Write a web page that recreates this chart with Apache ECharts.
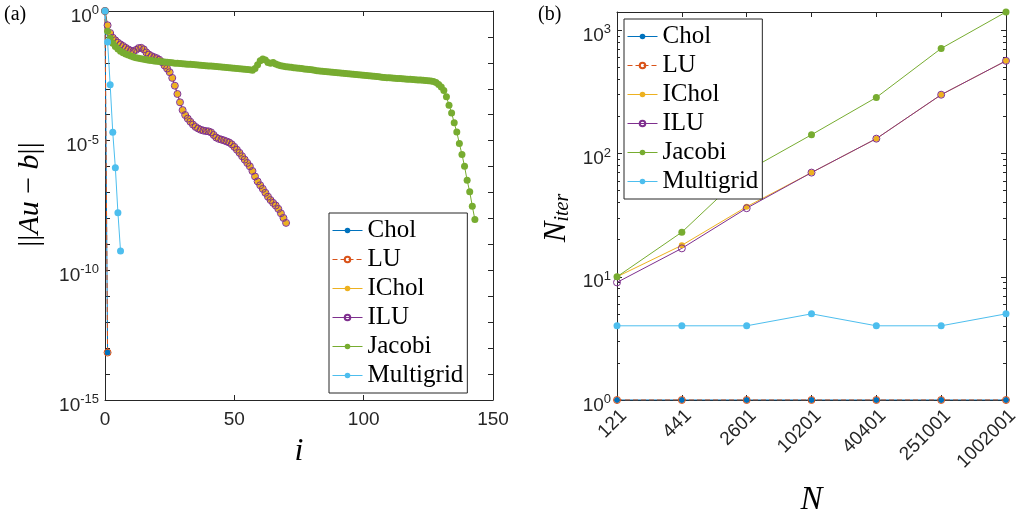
<!DOCTYPE html>
<html><head><meta charset="utf-8">
<script src="https://cdn.jsdelivr.net/npm/echarts@6/dist/echarts.min.js"></script>
<style>html,body{margin:0;padding:0;background:#fff}#c{width:1019px;height:517px}</style>
</head><body><div id="c"></div>
<script>
const seriesNames = ['Chol', 'LU', 'IChol', 'ILU', 'Jacobi', 'Multigrid'];

// Panel (a): log10 of the residual ||Au-b|| at iteration i = 0,1,2,...
const cholLog = [0, -13.17];
const luLog = [0, -13.17];
const icholLog = [0, -0.55, -0.85, -1.03, -1.13, -1.22, -1.29, -1.35, -1.42, -1.48,
  -1.53, -1.55, -1.50, -1.43, -1.42, -1.48, -1.60, -1.68, -1.74, -1.78,
  -1.82, -1.88, -1.97, -2.10, -2.22, -2.36, -2.58, -2.88, -3.20, -3.52,
  -3.82, -4.01, -4.15, -4.27, -4.38, -4.47, -4.53, -4.58, -4.61, -4.63,
  -4.64, -4.68, -4.78, -4.88, -4.93, -4.96, -4.99, -5.03, -5.07, -5.14,
  -5.24, -5.35, -5.47, -5.60, -5.73, -5.86, -5.99, -6.17, -6.38, -6.57,
  -6.72, -6.86, -7.01, -7.16, -7.29, -7.40, -7.50, -7.63, -7.80, -7.98, -8.17];
const iluLog = [0, -0.55, -0.85, -1.03, -1.13, -1.22, -1.29, -1.35, -1.42, -1.48,
  -1.53, -1.55, -1.50, -1.43, -1.42, -1.48, -1.60, -1.68, -1.74, -1.78,
  -1.82, -1.88, -1.97, -2.10, -2.22, -2.36, -2.58, -2.88, -3.20, -3.52,
  -3.82, -4.01, -4.15, -4.27, -4.38, -4.47, -4.53, -4.58, -4.61, -4.63,
  -4.64, -4.68, -4.78, -4.88, -4.93, -4.96, -4.99, -5.03, -5.07, -5.14,
  -5.24, -5.35, -5.47, -5.60, -5.73, -5.86, -5.99, -6.17, -6.38, -6.57,
  -6.72, -6.86, -7.01, -7.16, -7.29, -7.40, -7.50, -7.63, -7.80, -7.98, -8.17];
const jacobiLog = [0,
  -0.78, -1.05, -1.24, -1.37, -1.47, -1.55, -1.61, -1.66, -1.70, -1.74,
  -1.77, -1.80, -1.82, -1.84, -1.86, -1.88, -1.90, -1.91, -1.93, -1.94,
  -1.95, -1.96, -1.97, -1.98, -1.99, -2.00, -2.01, -2.01, -2.02, -2.03,
  -2.04, -2.05, -2.05, -2.06, -2.07, -2.08, -2.09, -2.10, -2.11, -2.12,
  -2.12, -2.13, -2.14, -2.15, -2.16, -2.17, -2.18, -2.19, -2.20, -2.21,
  -2.22, -2.23, -2.24, -2.25, -2.26, -2.27, -2.28,
  -2.22, -2.07, -1.92, -1.85, -1.89, -1.99, -2.01, -1.99, -2.04, -2.08, -2.11, -2.13,
  -2.15, -2.16, -2.17, -2.19, -2.20, -2.21, -2.22, -2.24, -2.25, -2.26,
  -2.27, -2.28, -2.30, -2.31, -2.32, -2.33, -2.34, -2.35, -2.36, -2.37,
  -2.38, -2.39, -2.40, -2.41, -2.42, -2.43, -2.44, -2.45, -2.46, -2.47,
  -2.48, -2.49, -2.50, -2.51, -2.52, -2.53, -2.54, -2.55, -2.56, -2.57,
  -2.57, -2.58, -2.59, -2.60, -2.60, -2.61, -2.62, -2.63, -2.63, -2.64,
  -2.65, -2.66, -2.66, -2.67, -2.68, -2.69, -2.70, -2.72,
  -2.76, -2.83, -2.93, -3.07, -3.31, -3.63, -3.93, -4.31, -4.67, -5.11,
  -5.53, -5.99, -6.53, -6.97, -7.53, -8.04];
const multigridLog = [0, -1.2, -2.84, -4.68, -6.04, -7.78, -9.25];

// Panel (b): iterations needed vs problem size N
const nLabels = ['121', '441', '2601', '10201', '40401', '251001', '1002001'];
const cholIter = [1, 1, 1, 1, 1, 1, 1];
const luIter = [1, 1, 1, 1, 1, 1, 1];
const icholIter = [10, 18, 37, 70, 132, 300, 565];
const iluIter = [9, 17, 36, 70, 132, 300, 565];
const jacobiIter = [10, 23, 72, 142, 285, 712, 1407];
const multigridIter = [4, 4, 4, 5, 4, 4, 5];

const colors = {Chol: '#0072BD', LU: '#D95319', IChol: '#EDB120', ILU: '#7E2F8E', Jacobi: '#77AC30', Multigrid: '#4DBEEE'};
const hollow = {LU: true, ILU: true};
const sizes = {Chol: 6, LU: 7, IChol: 6, ILU: 7, Jacobi: 7, Multigrid: 7};
const AX = '#262626';
const SANS = 'Liberation Sans, Arial, sans-serif';
const SERIF = 'Liberation Serif, Times New Roman, serif';

const leftData = {Chol: cholLog, LU: luLog, IChol: icholLog, ILU: iluLog, Jacobi: jacobiLog, Multigrid: multigridLog};
const rightData = {Chol: cholIter, LU: luIter, IChol: icholIter, ILU: iluIter, Jacobi: jacobiIter, Multigrid: multigridIter};

function mk(name, data, ax) {
  const c = colors[name];
  return {
    name, type: 'line', xAxisIndex: ax, yAxisIndex: ax, data,
    symbol: 'circle', symbolSize: sizes[name], showSymbol: true, showAllSymbol: true,
    animation: false, silent: true,
    lineStyle: {color: c, width: 1, type: name === 'LU' ? [5, 3] : 'solid'},
    itemStyle: hollow[name] ? {color: 'rgba(255,255,255,0)', borderColor: c, borderWidth: 1} : {color: c, borderWidth: 0}
  };
}

const series = [];
seriesNames.forEach(n => series.push(mk(n, leftData[n].map((v, i) => [i, Math.pow(10, v)]), 0)));
seriesNames.forEach(n => series.push(mk(n, rightData[n], 2)));

const supRich = {
  b: {fontSize: 19, fontFamily: SANS, color: AX, lineHeight: 22, verticalAlign: 'bottom'},
  s: {fontSize: 13, fontFamily: SANS, color: AX, lineHeight: 8, verticalAlign: 'top'}
};
function decadeLabel(v, step) {
  const e = Math.round(Math.log10(v));
  if (Math.abs(Math.pow(10, e) - v) > 1e-6 * Math.pow(10, e)) return '';
  if (e % step !== 0) return '';
  return '{b|10}{s|' + e + '}';
}

const tick = {show: true, inside: true, length: 5, lineStyle: {color: AX, width: 1}};
const minor = {show: true, splitNumber: 9, length: 3, lineStyle: {color: AX, width: 1}};
const line = {show: true, onZero: false, lineStyle: {color: AX, width: 1}};
const legendBase = {
  data: seriesNames, orient: 'vertical', backgroundColor: '#fff', borderColor: AX, borderWidth: 1,
  borderRadius: 0, padding: [3, 4, 3, 3], itemWidth: 30, itemHeight: 7, itemGap: 0,
  selectedMode: false, lineStyle: {width: 1},
  textStyle: {fontFamily: SERIF, fontSize: 25, color: '#000', lineHeight: 29}
};

const option = {
  backgroundColor: '#fff',
  animation: false,
  grid: [
    {left: 105, top: 11, width: 388, height: 389, outerBoundsMode: 'none', containLabel: false},
    {left: 617, top: 12, width: 389, height: 388, outerBoundsMode: 'none', containLabel: false}
  ],
  legend: [
    Object.assign({left: 329, top: 213}, legendBase),
    Object.assign({left: 624, top: 19}, legendBase)
  ],
  graphic: [
    {type: 'text', left: 4, top: 5, style: {text: '(a)', font: '20px ' + SERIF, fill: '#000'}},
    {type: 'text', left: 538, top: 5, style: {text: '(b)', font: '20px ' + SERIF, fill: '#000'}}
  ],
  xAxis: [
    {gridIndex: 0, type: 'value', min: 0, max: 150, interval: 50, position: 'bottom',
      axisLine: line, axisTick: tick, splitLine: {show: false},
      axisLabel: {fontFamily: SANS, fontSize: 19, color: AX, margin: 10},
      name: 'i', nameLocation: 'middle', nameGap: 36,
      nameTextStyle: {fontFamily: SERIF, fontStyle: 'italic', fontSize: 32, color: '#000'}},
    {gridIndex: 0, type: 'value', min: 0, max: 150, interval: 50, position: 'top',
      axisLine: line, axisTick: tick, splitLine: {show: false}, axisLabel: {show: false}},
    {gridIndex: 1, type: 'category', data: nLabels, boundaryGap: false, position: 'bottom',
      axisLine: line, axisTick: tick, splitLine: {show: false},
      axisLabel: {fontFamily: SANS, fontSize: 19, color: AX, rotate: 45, margin: 6, interval: 0, verticalAlign: 'top'},
      name: 'N', nameLocation: 'middle', nameGap: 84,
      nameTextStyle: {fontFamily: SERIF, fontStyle: 'italic', fontSize: 33, color: '#000'}},
    {gridIndex: 1, type: 'category', data: nLabels, boundaryGap: false, position: 'top',
      axisLine: line, axisTick: tick, splitLine: {show: false}, axisLabel: {show: false}}
  ],
  yAxis: [
    {gridIndex: 0, type: 'log', logBase: 10, min: 1e-15, max: 1, interval: 1, position: 'left',
      axisLine: line, axisTick: tick, splitLine: {show: false},
      axisLabel: {formatter: v => decadeLabel(v, 5), rich: supRich, margin: 6, padding: [8, 0, 0, 0]},
      name: '{n|||}{i|Au}{n| \u2212 }{i|b}{n|||}', nameLocation: 'middle', nameGap: 60,
      nameTextStyle: {padding: [0, 0, 0, 22], rich: {
        n: {fontFamily: SERIF, fontSize: 30, color: '#000'},
        i: {fontFamily: SERIF, fontStyle: 'italic', fontSize: 30, color: '#000'}}}},
    {gridIndex: 0, type: 'log', logBase: 10, min: 1e-15, max: 1, interval: 1, position: 'right',
      axisLine: line, axisTick: tick, splitLine: {show: false}, axisLabel: {show: false}},
    {gridIndex: 1, type: 'log', logBase: 10, min: 1, max: 1407, interval: 1, position: 'left',
      axisLine: line, axisTick: tick, splitLine: {show: false}, minorTick: minor,
      axisLabel: {formatter: v => decadeLabel(v, 1), rich: supRich, margin: 6, padding: [8, 0, 0, 0], showMaxLabel: false},
      name: '{N|N}{s|iter}', nameLocation: 'middle', nameGap: 44,
      nameTextStyle: {padding: [0, 24, 0, 0], rich: {
        N: {fontFamily: SERIF, fontStyle: 'italic', fontSize: 31, color: '#000', lineHeight: 32, verticalAlign: 'top'},
        s: {fontFamily: SERIF, fontStyle: 'italic', fontSize: 20, color: '#000', lineHeight: 13, verticalAlign: 'bottom'}}}},
    {gridIndex: 1, type: 'log', logBase: 10, min: 1, max: 1407, interval: 1, position: 'right',
      axisLine: line, axisTick: tick, splitLine: {show: false}, axisLabel: {show: false}, minorTick: minor}
  ],
  series
};
const chart = echarts.init(document.getElementById('c'), null, {renderer: 'canvas'});
chart.setOption(option);
</script>
</body></html>
